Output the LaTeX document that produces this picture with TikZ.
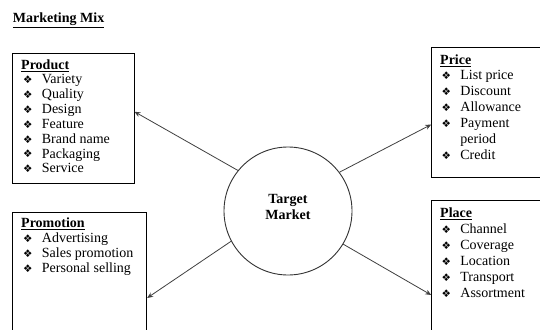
\documentclass[tikz,border=0pt]{standalone}
\usepackage{fontspec}
\setmainfont{Liberation Serif}
\newfontfamily\dejavu{DejaVu Sans}
\usetikzlibrary{arrows.meta}
\newcommand{\bul}{\makebox[18.7pt][l]{\raisebox{0.2pt}{\dejavu\fontsize{10.5}{10}\selectfont ❖}}}
\tikzset{
  txt/.style={anchor=base west, inner sep=0pt, font=\fontsize{14}{15}\selectfont},
  ttl/.style={txt, font=\fontsize{14}{15}\selectfont\bfseries},
  boxn/.style={draw=black, line width=0.9pt, rectangle, inner sep=0pt},
  arr/.style={draw=black!75, line width=0.8pt, -{Stealth[length=6pt,width=5pt]}},
}
\begin{document}
\begin{tikzpicture}[x=1pt,y=-1pt]
\useasboundingbox (0,0) rectangle (540,329);
\clip (0,0) rectangle (540,329);
\fill[white] (0,0) rectangle (540,329);

\node[ttl] (title) at (12.7,22.5) {\underline{Marketing Mix}};

% boxes
\node[boxn, minimum width=121.3pt, minimum height=129.5pt] (prod) at (73.35,118.25) {};
\node[boxn, minimum width=128.3pt, minimum height=130pt] (price) at (495.85,112) {};
\node[boxn, minimum width=134pt, minimum height=138pt] (promo) at (79.7,281) {};
\node[boxn, minimum width=128.3pt, minimum height=150pt] (place) at (495.85,275) {};

% circle
\node[draw=black!80, line width=0.9pt, circle, minimum size=128pt, inner sep=0pt] (tm) at (288,211) {};
\node[ttl, anchor=base] (tm1) at (288,203.5) {Target};
\node[ttl, anchor=base] (tm2) at (288,219.5) {Market};

% Product
\node[ttl] (pdt) at (21,69.5) {\underline{Product}};
\foreach \t [count=\i] in {Variety,Quality,Design,Feature,Brand name,Packaging,Service}
  \node[txt] (pd\i) at (23,{83.8+14.85*(\i-1)}) {\bul\t};

% Price
\node[ttl] (pct) at (440,64.5) {\underline{Price}};
\node[txt] (pc1) at (441.5,79.5) {\bul List price};
\node[txt] (pc2) at (441.5,95.3) {\bul Discount};
\node[txt] (pc3) at (441.5,111.5) {\bul Allowance};
\node[txt] (pc4) at (441.5,127.6) {\bul Payment};
\node[txt] (pc5) at (460.2,143.5) {period};
\node[txt] (pc6) at (441.5,159.5) {\bul Credit};

% Promotion
\node[ttl] (pmt) at (21,227.8) {\underline{Promotion}};
\foreach \t [count=\i] in {Advertising,Sales promotion,Personal selling}
  \node[txt] (pm\i) at (23,{242.8+15*(\i-1)}) {\bul\t};

% Place
\node[ttl] (plt) at (440,217.8) {\underline{Place}};
\foreach \t [count=\i] in {Channel,Coverage,Location,Transport,Assortment}
  \node[txt] (pl\i) at (441.5,{233.8+16*(\i-1)}) {\bul\t};

% arrow tips
\coordinate (tA) at (0,111.7);
\coordinate (tB) at (0,124.5);
\coordinate (tC) at (0,298);
\coordinate (tD) at (0,295);
\draw[arr] (tm.141) -- (prod.east |- tA);
\draw[arr] (tm.37) -- (price.west |- tB);
\draw[arr] (tm.208) -- (promo.east |- tC);
\draw[arr] (tm.329) -- (place.west |- tD);
\end{tikzpicture}
\end{document}
